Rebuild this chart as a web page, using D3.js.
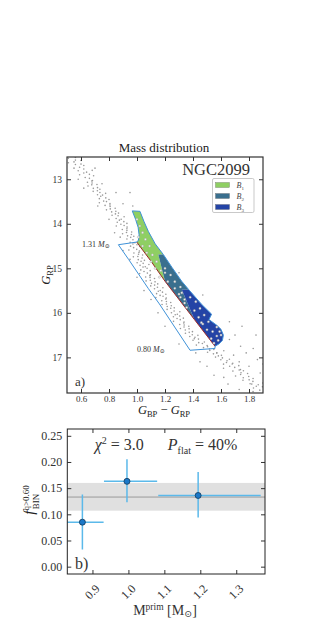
<!DOCTYPE html>
<html>
<head>
<meta charset="utf-8">
<script src="https://cdn.jsdelivr.net/npm/d3@7"></script>
<style>
  body { margin: 0; background: #fff; }
  svg text { font-family: "Liberation Serif", "DejaVu Serif", serif; }
</style>
</head>
<body>
<div class="chart-holder"></div>
<script>
// ---- top panel data: cluster CMD (colour, magnitude) ----
const cmd_stars = [
  [0.560,12.51],[0.51,12.53],[0.56,12.57],[0.60,12.58],[0.55,12.61],[0.51,12.63],[0.60,12.66],[0.56,12.67],[0.62,12.69],[0.59,12.73],
  [0.55,12.75],[0.62,12.77],[0.68,12.80],[0.58,12.81],[0.64,12.84],[0.62,12.86],[0.66,12.89],[0.59,12.90],[0.69,12.92],[0.63,12.96],
  [0.66,12.98],[0.58,13.00],[0.682,13.03],
  [0.677,13.04],[0.646,13.067],[0.679,13.085],[0.714,13.116],[0.677,13.125],[0.650,13.15],[0.718,13.188],[0.688,13.204],[0.735,13.225],[0.717,13.259],
  [0.687,13.271],[0.735,13.298],[0.776,13.316],[0.718,13.347],[0.754,13.356],[0.741,13.381],[0.777,13.419],[0.731,13.435],[0.800,13.456],[0.762,13.49],
  [0.782,13.502],[0.731,13.529],[0.807,13.547],[0.807,13.578],[0.772,13.587],[0.808,13.612],[0.844,13.65],[0.809,13.666],[0.782,13.687],[0.849,13.721],
  [0.819,13.733],[0.868,13.76],[0.846,13.778],[0.822,13.809],[0.865,13.818],[0.908,13.843],[0.851,13.881],[0.887,13.897],[0.874,13.918],[0.906,13.952],
  [0.859,13.964],[0.928,13.991],[0.885,14.009],[0.908,14.04],[0.852,14.049],[0.929,14.074],[0.928,14.112],[0.895,14.128],[0.928,14.149],[0.962,14.183],
  [0.925,14.195],[0.897,14.222],[0.960,14.24],[0.933,14.271],[0.977,14.28],[0.955,14.305],[0.928,14.343],[0.971,14.359],[1.011,14.38],[0.951,14.414],
  [0.985,14.426],[0.971,14.453],[1.000,14.471],[0.954,14.502],[1.019,14.511],[0.976,14.536],[0.998,14.574],[0.942,14.59],[1.017,14.611],[1.014,14.645],
  [0.978,14.657],[1.011,14.684],[1.040,14.702],[1.006,14.733],[0.974,14.742],[1.036,14.767],[1.009,14.805],[1.053,14.821],[1.029,14.842],[1.001,14.876],
  [1.044,14.888],[1.085,14.915],[1.022,14.933],[1.059,14.964],[1.043,14.973],[1.072,14.998],[1.027,15.036],[1.094,15.052],[1.050,15.073],[1.074,15.107],
  [1.019,15.119],[1.096,15.146],[1.092,15.164],[1.062,15.195],[1.093,15.204],[1.125,15.229],[1.095,15.267],[1.065,15.283],[1.129,15.304],[1.103,15.338],
  [1.148,15.35],[1.126,15.377],[1.098,15.395],[1.146,15.426],[1.185,15.435],[1.125,15.46],[1.166,15.498],[1.152,15.514],[1.182,15.535],[1.140,15.569],
  [1.206,15.581],[1.165,15.608],[1.186,15.626],[1.135,15.657],[1.209,15.666],[1.206,15.691],[1.177,15.729],[1.210,15.745],[1.241,15.766],[1.210,15.80],
  [1.179,15.812],[1.245,15.839],[1.216,15.857],[1.266,15.888],[1.241,15.897],[1.215,15.922],[1.265,15.96],[1.306,15.976],[1.246,15.997],[1.288,16.031],
  [1.273,16.043],[1.305,16.07],[1.260,16.088],[1.331,16.119],[1.286,16.128],[1.309,16.153],[1.261,16.191],[1.336,16.207],[1.334,16.228],[1.305,16.262],
  [1.337,16.274],[1.370,16.301],[1.336,16.319],[1.310,16.35],[1.372,16.359],[1.345,16.384],[1.396,16.422],[1.373,16.438],[1.346,16.459],[1.395,16.493],
  [1.435,16.505],[1.377,16.532],[1.414,16.55],[1.409,16.581],[1.439,16.59],[1.400,16.615],[1.481,16.653],[1.441,16.669],[1.467,16.69],[1.424,16.724],
  [1.501,16.736],[1.504,16.763],[1.475,16.781],[1.518,16.812],[1.549,16.821],[1.520,16.846],[1.504,16.884],[1.570,16.90],[1.546,16.921],[1.603,16.955],
  [1.581,16.967],[1.561,16.994],[1.610,17.012],[1.660,17.043],[1.599,17.052],[1.643,17.077],[1.639,17.115],[1.684,17.131],[1.618,17.152],[1.727,17.186],
  [1.662,17.198],[1.698,17.225],[1.618,17.243],[1.739,17.274],[1.730,17.283],[1.685,17.308],[1.743,17.346],[1.790,17.362],[1.740,17.383],[1.704,17.417],
  [1.798,17.429],[1.759,17.456],[1.829,17.474],[1.801,17.505],[1.757,17.514],[1.828,17.539],[1.899,17.577],[1.808,17.593],[1.866,17.614],[1.852,17.648],
  [1.896,17.66],[1.832,17.687],[1.877,17.736],[1.829,17.77],
  [0.75,13.1],[0.85,13.3],[0.9,13.55],[0.97,13.6],[0.7,12.75],[0.62,13.2],[0.72,13.6],[0.8,13.9],[0.88,14.3],[0.95,14.8],
  [1.05,15.5],[1.15,16.0],[1.3,16.7],[1.45,17.1],[1.55,17.4],[1.65,17.6],[1.6,16.45],[1.66,16.6],[1.7,16.5],[1.74,16.75],
  [1.78,16.9],[1.69,16.95],[1.83,16.8],[1.86,17.05],[1.73,17.1],[1.8,17.2],[1.88,17.35],[1.76,17.3],[1.62,16.85],[1.85,16.5],
  [1.75,16.3],[1.68,17.15],[1.57,16.9],[1.9,17.15],[1.82,17.6],[1.73,17.72],[1.62,17.45],[1.5,17.2],[1.42,16.9],[1.2,16.3],
  [1.1,15.7],[1.0,15.2],[0.9,14.6],[0.84,14.2],[1.3,15.1],[1.47,15.6],[1.66,16.2],[0.95,13.3]
];

// stars selected as binaries inside the bins
const bin_stars = [
  [1.0,13.9],[1.02,14.05],[1.04,14.2],[1.01,14.3],[1.06,14.35],[1.04,14.5],[1.09,14.5],[1.07,14.65],[1.11,14.7],[1.1,14.85],
  [1.14,14.85],[1.13,15.0],[1.17,15.05],[1.16,15.2],[1.2,15.1],
  [1.2,15.0],[1.24,15.15],[1.22,15.3],[1.27,15.3],[1.27,15.45],[1.31,15.42],[1.3,15.58],[1.31,15.65],[1.32,15.55],[1.34,15.78],
  [1.34,15.7],[1.355,15.88],
  [1.38,15.65],[1.42,15.75],[1.41,15.95],[1.45,15.9],[1.44,16.1],[1.48,16.05],[1.46,16.22],[1.47,16.25],[1.51,16.2],[1.5,16.38],
  [1.54,16.42],[1.57,16.32],[1.53,16.58],[1.57,16.52],[1.59,16.42],[1.55,16.68],[1.58,16.62],[1.6,16.5]
];

// region outlines (colour, magnitude)
const bin1_area = [[0.966,13.71],[1.021,13.72],[1.05,13.95],[1.081,14.17],[1.13,14.45],[1.188,14.69],[1.152,14.69],
  [1.2,15.29],[1.1,14.84],[0.998,14.41],[1.01,14.37],[1.015,14.25],[1.008,14.08],[0.99,13.9]];
const bin2_area = [[1.152,14.69],[1.188,14.69],[1.25,14.98],[1.319,15.29],[1.37,15.48],[1.32,15.48],[1.41,16.15],[1.2,15.29]];
const bin3_area = [[1.32,15.48],[1.37,15.48],[1.462,15.81],[1.533,16.03],[1.514,16.15],[1.57,16.28],[1.6,16.37],[1.617,16.5],
  [1.61,16.62],[1.585,16.7],[1.557,16.75],[1.41,16.15]];
const outer_area = [[0.867,14.47],[0.998,14.41],[1.01,14.37],[1.015,14.25],[1.008,14.08],[0.99,13.9],[0.966,13.71],[1.021,13.72],
  [1.05,13.95],[1.081,14.17],[1.13,14.45],[1.188,14.69],[1.25,14.98],[1.319,15.29],[1.37,15.48],[1.462,15.81],[1.533,16.03],
  [1.514,16.15],[1.57,16.28],[1.6,16.37],[1.617,16.5],[1.61,16.62],[1.585,16.7],[1.557,16.75],[1.557,16.8],[1.379,16.84],
  [1.16,15.8],[1.08,15.45],[0.94,14.8],[0.867,14.47]];
const single_line = [[0.998,14.41],[1.1,14.84],[1.2,15.29],[1.41,16.15],[1.557,16.75]];

const bin_names = ['1', '2', '3'];
const bin_colors = ['#8fcf63', '#3a6f8e', '#2444a6'];

const cmd_xticks = [0.6, 0.8, 1.0, 1.2, 1.4, 1.6, 1.8];
const cmd_yticks = [13, 14, 15, 16, 17];

// ---- bottom panel data: binary fraction per mass bin ----
const mass_mid = [0.872, 0.996, 1.194];
const mass_lo = [0.82, 0.932, 1.083];
const mass_hi = [0.931, 1.08, 1.368];
const fbin = [0.085, 0.163, 0.136];
const fbin_lo = [0.033, 0.123, 0.094];
const fbin_hi = [0.138, 0.205, 0.181];
const flat_mean = 0.133;
const flat_band = [0.107, 0.160];

const frac_xticks = [0.9, 1.0, 1.1, 1.2, 1.3];
const frac_yticks = [0.00, 0.05, 0.10, 0.15, 0.20, 0.25];

const svg = d3.select('.chart-holder').append('svg')
  .attr('width', 314)
  .attr('height', 626);

// ================= panel a =================
const x1 = d3.scaleLinear().domain([0.5, 1.9]).range([67, 263]);
const y1 = d3.scaleLinear().domain([12.5, 17.8]).range([157, 393]);

svg.append('clipPath').attr('id', 'clipA')
  .append('rect').attr('x', 67).attr('y', 157).attr('width', 196).attr('height', 236);

const pA = svg.append('g').attr('clip-path', 'url(#clipA)');
const poly = d3.line().x(d => x1(d[0])).y(d => y1(d[1]));

pA.selectAll('.star').data(cmd_stars).enter().append('circle')
  .attr('cx', d => x1(d[0]))
  .attr('cy', d => y1(d[1]))
  .attr('r', 0.8)
  .attr('fill', '#999')
  .attr('stroke', 'none');

[bin1_area, bin2_area, bin3_area].forEach((a, i) => {
  pA.append('path')
    .attr('d', poly(a) + 'Z')
    .attr('fill', bin_colors[i])
    .attr('stroke', 'none');
});

pA.append('path')
  .attr('d', poly(single_line))
  .attr('fill', 'none')
  .attr('stroke', '#a02828')
  .attr('stroke-width', 1);

pA.append('path')
  .attr('d', poly(outer_area))
  .attr('fill', 'none')
  .attr('stroke', '#3f92d8')
  .attr('stroke-width', 1);

pA.selectAll('.bstar').data(bin_stars).enter().append('circle')
  .attr('cx', d => x1(d[0]))
  .attr('cy', d => y1(d[1]))
  .attr('r', 1.1)
  .attr('fill', '#f2f2f2')
  .attr('stroke', '#999')
  .attr('stroke-width', 0.4);

// axes with inward ticks
function styleAxis(g, fs) {
  g.select('.domain').remove();
  g.selectAll('line').attr('stroke', '#333');
  g.selectAll('text').style('font-size', fs).attr('fill', '#333')
    .style('font-family', '"Liberation Serif", serif');
}
svg.append('g').attr('transform', 'translate(0,393)')
  .call(d3.axisBottom(x1).tickValues(cmd_xticks).tickFormat(d3.format('.1f')).tickSize(-4).tickPadding(3))
  .call(g => styleAxis(g, '9px'));
svg.append('g').attr('transform', 'translate(67,0)')
  .call(d3.axisLeft(y1).tickValues(cmd_yticks).tickFormat(d3.format('d')).tickSize(-4).tickPadding(5))
  .call(g => styleAxis(g, '9.5px'));
svg.append('g').attr('transform', 'translate(0,157)')
  .call(d3.axisTop(x1).tickValues(cmd_xticks).tickFormat('').tickSize(-4))
  .call(g => styleAxis(g, '9px'));
svg.append('g').attr('transform', 'translate(263,0)')
  .call(d3.axisRight(y1).tickValues(cmd_yticks).tickFormat('').tickSize(-4))
  .call(g => styleAxis(g, '9px'));

svg.append('rect')
  .attr('x', 67).attr('y', 157).attr('width', 196).attr('height', 236)
  .attr('fill', 'none').attr('stroke', '#333').attr('stroke-width', 1.2);

svg.append('text').attr('x', 164).attr('y', 152).attr('text-anchor', 'middle')
  .style('font-size', '13px').attr('fill', '#222').text('Mass distribution');

svg.append('text').attr('x', 250).attr('y', 175).attr('text-anchor', 'end')
  .style('font-size', '16.5px').attr('fill', '#333').text('NGC2099');

// legend
const leg = svg.append('g').attr('transform', 'translate(212.5,178.5)');
leg.append('rect').attr('width', 41.5).attr('height', 34).attr('rx', 1.5)
  .attr('fill', '#fff').attr('stroke', '#bbb').attr('stroke-width', 0.8);
bin_names.forEach((n, i) => {
  leg.append('rect').attr('x', 3).attr('y', 4 + i * 11).attr('width', 14).attr('height', 5)
    .attr('fill', bin_colors[i]).attr('stroke', '#555').attr('stroke-width', 0.3);
  const t = leg.append('text').attr('x', 24).attr('y', 9.5 + i * 11)
    .style('font-size', '8px').style('font-style', 'italic').attr('fill', '#444');
  t.append('tspan').text('B');
  t.append('tspan').attr('dy', 1.5).style('font-size', '5px').style('font-style', 'normal').text(n);
});

// mass labels
const ml1 = svg.append('text').attr('x', 82).attr('y', 246.5).style('font-size', '8px').attr('fill', '#333');
ml1.append('tspan').text('1.31 ');
ml1.append('tspan').style('font-style', 'italic').text('M');
ml1.append('tspan').attr('dy', 1.5).style('font-size', '6px').text('\u2299');
const ml2 = svg.append('text').attr('x', 137).attr('y', 351.5).style('font-size', '8px').attr('fill', '#333');
ml2.append('tspan').text('0.80 ');
ml2.append('tspan').style('font-style', 'italic').text('M');
ml2.append('tspan').attr('dy', 1.5).style('font-size', '6px').text('\u2299');

svg.append('text').attr('x', 75).attr('y', 386).style('font-size', '13px').attr('fill', '#333').text('a)');

const xl1 = svg.append('text').attr('x', 164).attr('y', 414).attr('text-anchor', 'middle')
  .style('font-size', '12.5px').attr('fill', '#222');
xl1.append('tspan').style('font-style', 'italic').text('G');
xl1.append('tspan').attr('dy', 2.5).style('font-size', '8.5px').text('BP');
xl1.append('tspan').attr('dy', -2.5).text(' \u2212 ');
xl1.append('tspan').style('font-style', 'italic').text('G');
xl1.append('tspan').attr('dy', 2.5).style('font-size', '8.5px').text('RP');

const yl1 = svg.append('text').attr('transform', 'translate(50,275) rotate(-90)').attr('text-anchor', 'middle')
  .style('font-size', '12.5px').attr('fill', '#222');
yl1.append('tspan').style('font-style', 'italic').text('G');
yl1.append('tspan').attr('dy', 2.5).style('font-size', '8.5px').text('RP');

// ================= panel b =================
const x2 = d3.scaleLinear().domain([0.83, 1.38]).range([67.3, 265]);
const y2 = d3.scaleLinear().domain([-0.014, 0.263]).range([574, 429]);

svg.append('clipPath').attr('id', 'clipB')
  .append('rect').attr('x', 67.3).attr('y', 429).attr('width', 197.7).attr('height', 145);
const pB = svg.append('g').attr('clip-path', 'url(#clipB)');

pB.append('rect')
  .attr('x', 67.3).attr('width', 197.7)
  .attr('y', y2(flat_band[1])).attr('height', y2(flat_band[0]) - y2(flat_band[1]))
  .attr('fill', '#e0e0e0');
pB.append('line')
  .attr('x1', 67.3).attr('x2', 265)
  .attr('y1', y2(flat_mean)).attr('y2', y2(flat_mean))
  .attr('stroke', '#999').attr('stroke-width', 1);

fbin.forEach((v, i) => {
  pB.append('line')
    .attr('x1', x2(mass_lo[i])).attr('x2', x2(mass_hi[i]))
    .attr('y1', y2(v)).attr('y2', y2(v))
    .attr('stroke', '#5bb9ea').attr('stroke-width', 1.5);
  pB.append('line')
    .attr('x1', x2(mass_mid[i])).attr('x2', x2(mass_mid[i]))
    .attr('y1', y2(fbin_lo[i])).attr('y2', y2(fbin_hi[i]))
    .attr('stroke', '#5bb9ea').attr('stroke-width', 1.5);
});
pB.selectAll('.pt').data(fbin).enter().append('circle')
  .attr('cx', (d, i) => x2(mass_mid[i]))
  .attr('cy', d => y2(d))
  .attr('r', 3)
  .attr('fill', '#1b78c8')
  .attr('stroke', '#123a5c')
  .attr('stroke-width', 0.8);

const xaxB = svg.append('g').attr('transform', 'translate(0,574)')
  .call(d3.axisBottom(x2).tickValues(frac_xticks).tickFormat(d3.format('.1f')).tickSize(-4))
  .call(g => styleAxis(g, '12px'));
xaxB.selectAll('text')
  .attr('x', 0).attr('y', 0).attr('dy', '0.35em')
  .attr('text-anchor', 'end')
  .attr('transform', 'translate(4.5,12.5) rotate(-45)');
svg.append('g').attr('transform', 'translate(67.3,0)')
  .call(d3.axisLeft(y2).tickValues(frac_yticks).tickFormat(d3.format('.2f')).tickSize(-4).tickPadding(5))
  .call(g => styleAxis(g, '12px'));
svg.append('g').attr('transform', 'translate(0,429)')
  .call(d3.axisTop(x2).tickValues(frac_xticks).tickFormat('').tickSize(-4))
  .call(g => styleAxis(g, '9px'));
svg.append('g').attr('transform', 'translate(265,0)')
  .call(d3.axisRight(y2).tickValues(frac_yticks).tickFormat('').tickSize(-4))
  .call(g => styleAxis(g, '9px'));

svg.append('rect')
  .attr('x', 67.3).attr('y', 429).attr('width', 197.7).attr('height', 145)
  .attr('fill', 'none').attr('stroke', '#222').attr('stroke-width', 1);

const chi = svg.append('text').attr('x', 166).attr('y', 450).attr('text-anchor', 'middle')
  .style('font-size', '16px').attr('fill', '#333');
chi.append('tspan').style('font-style', 'italic').text('\u03c7');
chi.append('tspan').attr('dy', -6).style('font-size', '10px').text('2');
chi.append('tspan').attr('dy', 6).text(' = 3.0\u2003\u2002');
chi.append('tspan').style('font-style', 'italic').text('P');
chi.append('tspan').attr('dy', 3.5).style('font-size', '10px').text('flat');
chi.append('tspan').attr('dy', -3.5).text(' = 40%');

svg.append('text').attr('x', 75).attr('y', 569).style('font-size', '16px').attr('fill', '#333').text('b)');

const xl2 = svg.append('text').attr('x', 165).attr('y', 615).attr('text-anchor', 'middle')
  .style('font-size', '14px').attr('fill', '#333');
xl2.append('tspan').text('M');
xl2.append('tspan').attr('dy', -5).style('font-size', '9.5px').text('prim');
xl2.append('tspan').attr('dy', 5).text(' [M');
xl2.append('tspan').attr('dy', 2).style('font-size', '9.5px').text('\u2299');
xl2.append('tspan').attr('dy', -2).text(']');

const yl2 = svg.append('text').attr('transform', 'translate(34,500) rotate(-90)').attr('text-anchor', 'middle')
  .style('font-size', '15px').attr('fill', '#222');
yl2.append('tspan').style('font-style', 'italic').text('f');
yl2.append('tspan').attr('dy', -5.5).style('font-size', '9px').text('q>0.60');
yl2.append('tspan').attr('dx', -24).attr('dy', 10).style('font-size', '9px').text('BIN');
</script>
</body>
</html>
